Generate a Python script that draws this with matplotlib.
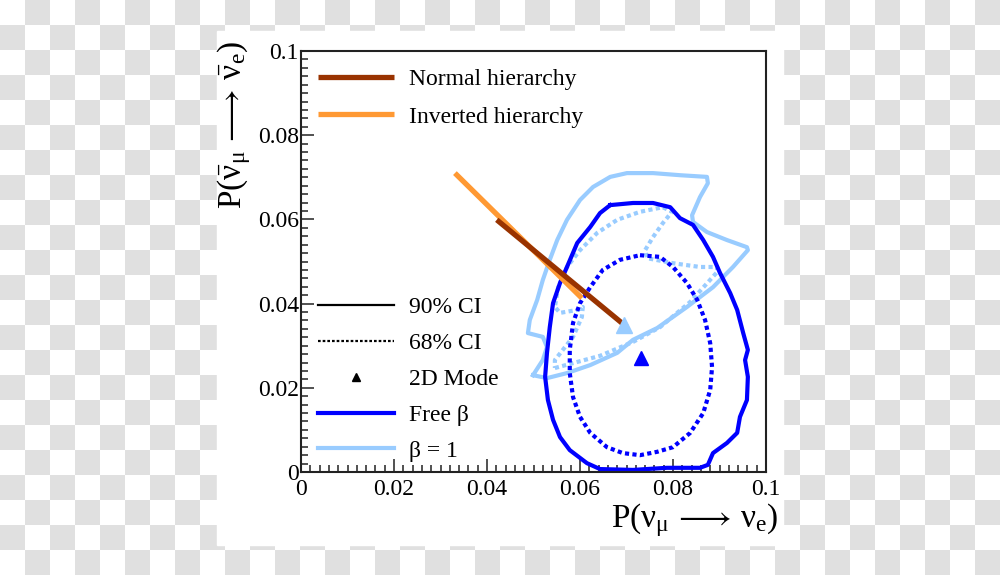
import numpy as np
import matplotlib
matplotlib.use("Agg")
import matplotlib.pyplot as plt
from matplotlib.colors import ListedColormap
from matplotlib.lines import Line2D
from matplotlib.patches import Rectangle
from matplotlib.ticker import MultipleLocator, FuncFormatter

plt.rcParams["font.family"] = ["Liberation Serif", "DejaVu Serif"]
plt.rcParams["mathtext.fontset"] = "custom"
plt.rcParams["mathtext.rm"] = "Liberation Serif"
plt.rcParams["mathtext.it"] = "Liberation Serif"
plt.rcParams["mathtext.bf"] = "Liberation Serif:bold"

# --- contour data (P(nu_mu->nu_e), P(nubar_mu->nubar_e)) ---
free90_x = [0.0665, 0.0714, 0.0757, 0.0794, 0.0815, 0.0843, 0.0865, 0.0886, 0.0901, 0.0923,
            0.0938, 0.0951, 0.0961, 0.0955, 0.0961, 0.0959, 0.0944, 0.0938, 0.0916, 0.0886,
            0.0875, 0.0858, 0.0787, 0.0714, 0.0643, 0.0615, 0.0578, 0.0557, 0.0542, 0.0531,
            0.0525, 0.0529, 0.0535, 0.0542, 0.0557, 0.0572, 0.0594, 0.0622, 0.0643, 0.0665]
free90_y = [0.0634, 0.0639, 0.0639, 0.0629, 0.0603, 0.0587, 0.0551, 0.0511, 0.0473, 0.0425,
            0.0385, 0.0330, 0.0290, 0.0266, 0.0226, 0.0171, 0.0131, 0.0093, 0.0069, 0.0045,
            0.0017, 0.0010, 0.0010, 0.0005, 0.0007, 0.0021, 0.0052, 0.0083, 0.0124, 0.0171,
            0.0226, 0.0283, 0.0344, 0.0401, 0.0449, 0.0487, 0.0544, 0.0582, 0.0615, 0.0634]

free68_x = [0.0729, 0.0772, 0.0800, 0.0830, 0.0852, 0.0869, 0.0880, 0.0884, 0.0880, 0.0865,
            0.0837, 0.0800, 0.0766, 0.0729, 0.0692, 0.0658, 0.0622, 0.0600, 0.0585, 0.0578,
            0.0578, 0.0585, 0.0600, 0.0622, 0.0649, 0.0686, 0.0729]
free68_y = [0.0515, 0.0511, 0.0487, 0.0449, 0.0409, 0.0361, 0.0306, 0.0249, 0.0195, 0.0140,
            0.0093, 0.0059, 0.0048, 0.0040, 0.0045, 0.0059, 0.0093, 0.0131, 0.0178, 0.0235,
            0.0290, 0.0354, 0.0401, 0.0439, 0.0480, 0.0504, 0.0515]

beta90_x = [0.0499, 0.0529, 0.0572, 0.0622, 0.0680, 0.0714, 0.0766, 0.0830, 0.0886, 0.0929,
            0.0961, 0.0959, 0.0916, 0.0873, 0.0843, 0.0841, 0.0858, 0.0875, 0.0873, 0.0815,
            0.0757, 0.0701, 0.0665, 0.0628, 0.0600, 0.0572, 0.0551, 0.0535, 0.0520, 0.0508,
            0.0492, 0.0488, 0.0520, 0.0529, 0.0520, 0.0499]
beta90_y = [0.0230, 0.0223, 0.0235, 0.0254, 0.0283, 0.0314, 0.0342, 0.0392, 0.0439, 0.0487,
            0.0527, 0.0534, 0.0551, 0.0570, 0.0594, 0.0610, 0.0653, 0.0686, 0.0701, 0.0705,
            0.0710, 0.0710, 0.0701, 0.0677, 0.0646, 0.0599, 0.0551, 0.0504, 0.0456, 0.0409,
            0.0361, 0.0330, 0.0321, 0.0297, 0.0266, 0.0230]

beta68_x = [0.0546, 0.0643, 0.0714, 0.0772, 0.0837, 0.0895, 0.0895, 0.0858, 0.0800, 0.0744,
            0.0740, 0.0757, 0.0778, 0.0798, 0.0778, 0.0729, 0.0680, 0.0637, 0.0600, 0.0572,
            0.0553, 0.0546, 0.0557, 0.0594, 0.0606, 0.0604, 0.0585, 0.0563, 0.0546, 0.0546]
beta68_y = [0.0247, 0.0276, 0.0309, 0.0344, 0.0404, 0.0475, 0.0487, 0.0487, 0.0496, 0.0508,
            0.0527, 0.0558, 0.0591, 0.0618, 0.0629, 0.0618, 0.0599, 0.0568, 0.0527, 0.0487,
            0.0439, 0.0392, 0.0378, 0.0385, 0.0392, 0.0368, 0.0321, 0.0290, 0.0266, 0.0247]

# hierarchy predictions (narrow bands)
normal_x = [0.0421, 0.0701]
normal_y = [0.0599, 0.0344]
inverted_x = [0.0331, 0.0604]
inverted_y = [0.0710, 0.0413]

# 2D modes
mode_free = (0.0731, 0.0271)
mode_beta1 = (0.0695, 0.0349)

BLUE = "#0000ff"
LIGHT = "#99ccff"
BROWN = "#993300"
ORANGE = "#ff9933"

fig = plt.figure(figsize=(10, 5.75), dpi=100)

# transparent-png style checker background
bg = fig.add_axes([0, 0, 1, 1])
rows, cols = np.indices((23, 40))
bg.imshow((rows + cols) % 2, cmap=ListedColormap(["white", "#e0e0e0"]),
          extent=(0, 1000, 575, 0), interpolation="nearest", aspect="auto")
bg.add_patch(Rectangle((217, 31), 566, 514, color="white", zorder=2))
bg.set_xlim(0, 1000)
bg.set_ylim(575, 0)
bg.axis("off")

ax = fig.add_axes([0.301, 0.1791, 0.465, 0.7322])
ax.set_xlim(0, 0.1)
ax.set_ylim(0, 0.1)

dot = (1, 0.8)
ax.plot(inverted_x, inverted_y, color=ORANGE, lw=3.8, solid_capstyle="butt", zorder=3)
ax.plot(normal_x, normal_y, color=BROWN, lw=3.8, solid_capstyle="butt", zorder=4)
ax.plot(beta90_x, beta90_y, color=LIGHT, lw=3.0, zorder=2)
ax.plot(beta68_x, beta68_y, color=LIGHT, lw=3.0, dashes=dot, dash_capstyle="butt", zorder=2)
ax.plot(free90_x, free90_y, color=BLUE, lw=3.0, zorder=2)
ax.plot(free68_x, free68_y, color=BLUE, lw=3.0, dashes=dot, dash_capstyle="butt", zorder=2)
ax.plot(*mode_beta1, marker="^", color=LIGHT, ms=11, ls="none", zorder=5)
ax.plot(*mode_free, marker="^", color=BLUE, ms=10, ls="none", zorder=5)

# axes styling (ROOT-like)
ax.xaxis.set_major_locator(MultipleLocator(0.02))
ax.yaxis.set_major_locator(MultipleLocator(0.02))
ax.xaxis.set_minor_locator(MultipleLocator(0.002))
ax.yaxis.set_minor_locator(MultipleLocator(0.002))
fmt = FuncFormatter(lambda v, _: f"{v:g}")
ax.xaxis.set_major_formatter(fmt)
ax.yaxis.set_major_formatter(fmt)
ax.tick_params(which="both", direction="in", top=False, right=False, width=1.1, color="#222222")
ax.tick_params(which="major", length=9.5, labelsize=17)
ax.tick_params(axis="x", which="major", pad=5)
ax.tick_params(axis="y", which="major", pad=1.5)
ax.tick_params(which="minor", length=5)
for sp in ax.spines.values():
    sp.set_linewidth(1.5)
    sp.set_color("#222222")

fig.text(0.779, 1 - 501 / 575, r"$\mathrm{P}(\nu_{\mu}\,\longrightarrow\,\nu_{e})$",
         fontsize=24, ha="right", va="top")
fig.text(0.234, 1 - 125 / 575, r"$\mathrm{P}(\bar{\nu}_{\mu}\,\longrightarrow\,\bar{\nu}_{e})$",
         fontsize=24, ha="center", va="center", rotation=90)

hier_handles = [
    Line2D([], [], color=BROWN, lw=3.8, solid_capstyle="butt"),
    Line2D([], [], color=ORANGE, lw=3.8, solid_capstyle="butt"),
]
leg1 = ax.legend(hier_handles, ["Normal hierarchy", "Inverted hierarchy"],
                 loc="upper left", bbox_to_anchor=(0.0366, 0.958), frameon=False,
                 fontsize=17, handlelength=3.2, handletextpad=0.64, labelspacing=0.67,
                 borderpad=0, borderaxespad=0)
ax.add_artist(leg1)

ci_handles = [
    Line2D([], [], color="black", lw=1.6),
    Line2D([], [], color="black", lw=1.6, dashes=(1.2, 0.9), dash_capstyle="butt"),
    Line2D([], [], color="black", marker="^", ms=6, ls="none"),
    Line2D([], [], color=BLUE, lw=3.0),
    Line2D([], [], color=LIGHT, lw=3.0),
]
ax.legend(ci_handles, ["90% CI", "68% CI", "2D Mode", "Free β", "β = 1"],
          loc="upper left", bbox_to_anchor=(0.0366, 0.417), frameon=False,
          fontsize=17, handlelength=3.2, handletextpad=0.64, labelspacing=0.61,
          borderpad=0, borderaxespad=0)

fig.savefig("out.png", dpi=100)
